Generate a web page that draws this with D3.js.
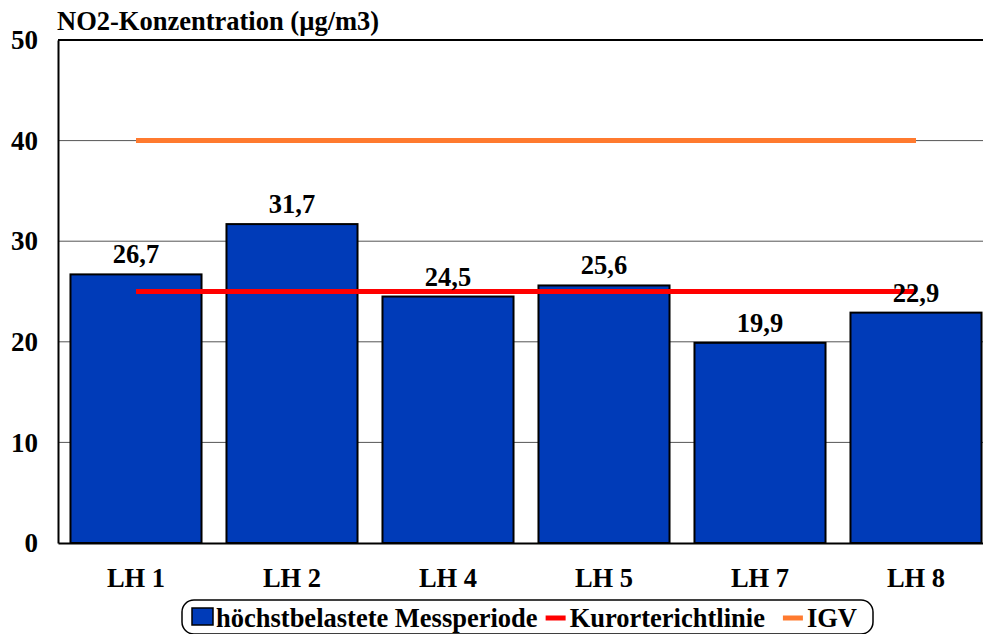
<!DOCTYPE html>
<html>
<head>
<meta charset="utf-8">
<script src="https://cdn.jsdelivr.net/npm/d3@7"></script>
<style>
  body { margin: 0; background: #fff; }
</style>
</head>
<body>
<div id="chart"></div>
<script>
// chart data
const categories = ["LH 1", "LH 2", "LH 4", "LH 5", "LH 7", "LH 8"];
const values = [26.7, 31.7, 24.5, 25.6, 19.9, 22.9];
const kurortLimit = 25;
const igvLimit = 40;
const yTicks = [0, 10, 20, 30, 40, 50];
const legendLabels = ["höchstbelastete Messperiode", "Kurorterichtlinie", "IGV"];

const FONT = '"Liberation Serif", "Times New Roman", serif';
const BLUE = "#003BB8", RED = "#FF0000", ORANGE = "#FF7A2F";
const W = 983, H = 634;
const margin = { top: 40, left: 58, bottom: 91 };
const plotRight = 994; // plot runs past the window edge

const svg = d3.select("#chart").append("svg")
  .attr("width", W)
  .attr("height", H);

function bold(sel, size) {
  return sel.style("font-family", FONT)
    .style("font-weight", "bold")
    .style("font-size", size + "px")
    .attr("fill", "#000");
}

const x = d3.scaleBand()
  .domain(categories)
  .range([margin.left, plotRight])
  .paddingInner(0.16)
  .paddingOuter(0.08);

const y = d3.scaleLinear()
  .domain([0, 50])
  .range([H - margin.bottom, margin.top]);

// grid lines
svg.append("g")
  .selectAll("line")
  .data(yTicks.filter(d => d > 0 && d < 50))
  .join("line")
  .attr("x1", margin.left)
  .attr("x2", plotRight)
  .attr("y1", d => y(d))
  .attr("y2", d => y(d))
  .attr("stroke", "#555")
  .attr("stroke-width", 1);

// top border
svg.append("line")
  .attr("x1", margin.left).attr("x2", plotRight)
  .attr("y1", y(50)).attr("y2", y(50))
  .attr("stroke", "#000").attr("stroke-width", 2);

// bars
svg.append("g")
  .selectAll("rect")
  .data(values)
  .join("rect")
  .attr("x", (d, i) => x(categories[i]))
  .attr("y", d => y(d))
  .attr("width", x.bandwidth())
  .attr("height", d => y(0) - y(d))
  .attr("fill", BLUE)
  .attr("stroke", "#000")
  .attr("stroke-width", 2);

// y axis
const yAxis = svg.append("g")
  .attr("transform", `translate(${margin.left},0)`)
  .call(d3.axisLeft(y).tickValues(yTicks).tickSize(0).tickPadding(20));
yAxis.select(".domain").attr("stroke", "#000").attr("stroke-width", 2);
bold(yAxis.selectAll("text"), 27);

// x axis
const xAxis = svg.append("g")
  .attr("transform", `translate(0,${y(0)})`)
  .call(d3.axisBottom(x).tickSize(0).tickPadding(25));
xAxis.select(".domain").attr("stroke", "#000").attr("stroke-width", 2);
bold(xAxis.selectAll("text"), 26.5);

// limit lines, from first to last category centre
const lineX1 = x(categories[0]) + x.bandwidth() / 2;
const lineX2 = x(categories[categories.length - 1]) + x.bandwidth() / 2;
svg.append("line")
  .attr("x1", lineX1).attr("x2", lineX2)
  .attr("y1", y(igvLimit)).attr("y2", y(igvLimit))
  .attr("stroke", ORANGE).attr("stroke-width", 5);
svg.append("line")
  .attr("x1", lineX1).attr("x2", lineX2)
  .attr("y1", y(kurortLimit)).attr("y2", y(kurortLimit))
  .attr("stroke", RED).attr("stroke-width", 5);

// value labels
bold(svg.append("g")
  .selectAll("text")
  .data(values)
  .join("text")
  .attr("x", (d, i) => x(categories[i]) + x.bandwidth() / 2)
  .attr("y", d => y(d) - 11)
  .attr("text-anchor", "middle")
  .text(d => d.toFixed(1).replace(".", ",")), 26.5);

// title
bold(svg.append("text")
  .attr("x", 57)
  .attr("y", 30)
  .text("NO2-Konzentration (µg/m3)"), 26.5);

// legend
const legend = svg.append("g");
legend.append("rect")
  .attr("x", 182).attr("y", 600)
  .attr("width", 691).attr("height", 34)
  .attr("rx", 12)
  .attr("fill", "#fff")
  .attr("stroke", "#000")
  .attr("stroke-width", 1.5);

let lx = 192;
const baseY = 627;
legendLabels.forEach((label, i) => {
  if (i === 0) {
    legend.append("rect")
      .attr("x", lx).attr("y", 608)
      .attr("width", 21).attr("height", 17)
      .attr("fill", BLUE).attr("stroke", "#000").attr("stroke-width", 1.5);
    lx += 24;
  } else {
    lx += i === 1 ? 8 : 18;
    legend.append("line")
      .attr("x1", lx).attr("x2", lx + 20)
      .attr("y1", 618).attr("y2", 618)
      .attr("stroke", i === 1 ? RED : ORANGE).attr("stroke-width", 5);
    lx += 24;
  }
  const t = bold(legend.append("text").attr("x", lx).attr("y", baseY).text(label), 26.5);
  lx += t.node().getComputedTextLength();
});
</script>
</body>
</html>
